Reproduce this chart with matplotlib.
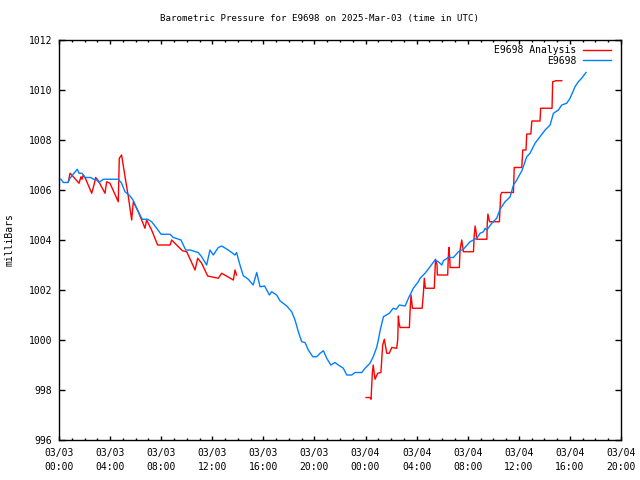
import matplotlib
matplotlib.use("Agg")
import matplotlib.dates as mdates
import numpy as np
import pandas as pd
from matplotlib import pyplot as plt

START = pd.Timestamp("2025-03-03 00:00")

# E9698 station readings: hours after start, pressure (mb)
station_hours = [0.15, 0.35, 0.7, 0.86, 1.43, 1.57, 1.8, 2.04, 2.5, 2.7, 2.95, 3.13, 3.47, 4.65, 4.9,
                 5.17, 5.56, 5.8, 6.08, 6.34, 6.52, 6.94, 7.25, 7.65, 7.99, 8.7, 8.95, 9.55, 9.92, 10.26,
                 10.9, 11.17, 11.56, 11.82, 12.08, 12.47, 12.74, 13.25, 13.78, 13.9, 14.17, 14.43, 14.82,
                 15.2, 15.48, 15.74, 16.1, 16.47, 16.65, 17.04, 17.3, 17.83, 18.22, 18.48, 18.74, 19.0,
                 19.26, 19.52, 19.87, 20.18, 20.44, 20.7, 20.96, 21.28, 21.61, 21.87, 22.26, 22.53, 22.92,
                 23.18, 23.7, 23.96, 24.35, 24.6, 24.87, 25.0, 25.15, 25.4, 25.86, 26.17, 26.4, 26.65,
                 27.1, 27.36, 27.74, 28.13, 28.27, 28.66, 29.05, 29.44, 29.7, 29.97, 30.1, 30.48, 30.88,
                 31.27, 31.66, 32.18, 32.45, 32.71, 32.97, 33.23, 33.36, 33.5, 33.88, 34.27, 34.53, 34.92,
                 35.07, 35.32, 35.58, 35.84, 35.97, 36.24, 36.62, 36.88, 37.27, 37.66, 38.06, 38.45, 38.71,
                 39.1, 39.36, 39.75, 40.01, 40.4, 40.66, 40.92, 41.26]
station_mb = [1006.43, 1006.3, 1006.3, 1006.47, 1006.83, 1006.67, 1006.67, 1006.5, 1006.5, 1006.43, 1006.4,
              1006.3, 1006.43, 1006.43, 1006.27, 1005.93, 1005.76, 1005.6, 1005.27, 1005.0, 1004.83, 1004.83,
              1004.73, 1004.47, 1004.23, 1004.23, 1004.1, 1004.0, 1003.6, 1003.6, 1003.5, 1003.33, 1003.0,
              1003.6, 1003.4, 1003.7, 1003.76, 1003.6, 1003.4, 1003.5, 1003.0, 1002.57, 1002.43, 1002.2,
              1002.7, 1002.13, 1002.16, 1001.8, 1001.93, 1001.8, 1001.57, 1001.36, 1001.13, 1000.8, 1000.33,
              999.93, 999.9, 999.6, 999.33, 999.33, 999.47, 999.57, 999.27, 999.0, 999.1, 999.0, 998.87,
              998.6, 998.6, 998.7, 998.7, 998.87, 999.07, 999.33, 999.7, 1000.0, 1000.4, 1000.93, 1001.07,
              1001.27, 1001.23, 1001.4, 1001.36, 1001.67, 1002.07, 1002.33, 1002.47, 1002.67, 1002.93,
              1003.2, 1003.13, 1003.0, 1003.17, 1003.3, 1003.3, 1003.53, 1003.63, 1003.93, 1004.0, 1004.07,
              1004.27, 1004.33, 1004.47, 1004.4, 1004.67, 1004.87, 1005.23, 1005.53, 1005.6, 1005.73,
              1006.2, 1006.4, 1006.53, 1006.77, 1007.33, 1007.47, 1007.87, 1008.13, 1008.4, 1008.6,
              1009.07, 1009.2, 1009.4, 1009.47, 1009.67, 1010.13, 1010.33, 1010.47, 1010.7]

# analysis, first run
analysis1_hours = [0.73, 0.86, 1.12, 1.57, 1.72, 1.8, 1.9, 2.04, 2.56, 2.76, 2.87, 3.08, 3.6, 3.73, 3.99,
                   4.64, 4.72, 4.9, 5.17, 5.43, 5.69, 5.82, 6.21, 6.47, 6.73, 6.86, 7.25, 7.72, 8.7, 8.82,
                   9.21, 9.66, 10.0, 10.65, 10.86, 11.17, 11.64, 12.47, 12.74, 13.65, 13.78, 13.9]
analysis1_mb = [1006.33, 1006.67, 1006.53, 1006.27, 1006.53, 1006.43, 1006.6, 1006.5, 1005.87, 1006.24,
                1006.5, 1006.37, 1005.87, 1006.33, 1006.27, 1005.53, 1007.27, 1007.4, 1006.53, 1005.73,
                1004.8, 1005.53, 1005.13, 1004.8, 1004.47, 1004.8, 1004.4, 1003.8, 1003.8, 1004.0, 1003.8,
                1003.57, 1003.53, 1002.8, 1003.27, 1003.07, 1002.56, 1002.47, 1002.67, 1002.4, 1002.8,
                1002.6]

# analysis, second run
analysis2_hours = [24.04, 24.35, 24.43, 24.53, 24.6, 24.74, 24.95, 25.2, 25.27, 25.34, 25.47, 25.66, 25.86,
                   26.05, 26.44, 26.52, 26.57, 26.62, 26.7, 27.43, 27.49, 27.56, 27.67, 28.43, 28.53, 28.6,
                   28.68, 29.38, 29.43, 29.48, 29.6, 29.62, 30.43, 30.48, 30.53, 30.6, 30.62, 31.34, 31.4,
                   31.53, 31.66, 32.45, 32.5, 32.58, 32.66, 32.71, 33.5, 33.53, 33.58, 33.71, 34.48, 34.53,
                   34.58, 34.66, 35.58, 35.64, 36.23, 36.31, 36.56, 36.62, 36.94, 37.02, 37.66, 37.71, 38.6,
                   38.65, 38.9, 39.36]
analysis2_mb = [997.7, 997.7, 997.63, 998.67, 999.0, 998.43, 998.67, 998.7, 999.23, 999.8, 1000.03, 999.47,
                999.47, 999.7, 999.67, 1000.03, 1000.96, 1000.7, 1000.5, 1000.5, 1001.2, 1001.8, 1001.27,
                1001.27, 1001.87, 1002.47, 1002.07, 1002.07, 1002.67, 1003.23, 1003.0, 1002.6, 1002.6,
                1003.33, 1003.7, 1003.2, 1002.9, 1002.9, 1003.6, 1004.0, 1003.53, 1003.53, 1004.13, 1004.56,
                1004.3, 1004.03, 1004.03, 1004.67, 1005.04, 1004.73, 1004.73, 1005.27, 1005.8, 1005.9,
                1005.9, 1006.9, 1006.9, 1007.6, 1007.6, 1008.24, 1008.24, 1008.76, 1008.76, 1009.27,
                1009.27, 1010.33, 1010.37, 1010.37]


def to_time(hours):
    return START + pd.to_timedelta(np.array(hours), unit="h")


FONT = "DejaVu Sans Mono"
plt.rcParams["font.family"] = FONT
plt.rcParams["font.size"] = 7

fig = plt.figure(figsize=(6.4, 4.8), dpi=100)
ax = fig.add_axes([59 / 640, 40 / 480, 562 / 640, 400 / 480])

red = "#ff0000"
blue = "#0080ff"
ax.plot(to_time(analysis1_hours), analysis1_mb, color=red, lw=1, label="E9698 Analysis")
ax.plot(to_time(analysis2_hours), analysis2_mb, color=red, lw=1)
ax.plot(to_time(station_hours), station_mb, color=blue, lw=1, label="E9698")

ax.set_xlim(START, START + pd.Timedelta(hours=44))
ax.set_ylim(996, 1012)
ax.set_yticks(range(996, 1013, 2))

ax.xaxis.set_major_locator(mdates.HourLocator(byhour=range(0, 24, 4)))
ax.xaxis.set_minor_locator(mdates.HourLocator())
ax.xaxis.set_major_formatter(mdates.DateFormatter("%m/%d\n%H:%M"))
for lbl in ax.get_xticklabels():
    lbl.set_linespacing(1.5)

ax.tick_params(which="both", direction="in", top=True, right=True, width=1, colors="black")
ax.tick_params(which="major", length=3, pad=6)
ax.tick_params(axis="y", which="major", length=4, pad=5)
ax.tick_params(which="minor", length=1.5)
for s in ax.spines.values():
    s.set_linewidth(1)

ax.legend(loc="upper right", frameon=False, markerfirst=False, handlelength=2.9,
          handletextpad=0.7, borderaxespad=0.6, labelspacing=0.1, fontsize=7,
          bbox_to_anchor=(1.0, 1.012))

fig.text(0.5, 1 - 19 / 480, "Barometric Pressure for E9698 on 2025-Mar-03 (time in UTC)",
         ha="center", va="center", fontsize=6.6)
fig.text(10 / 640, 0.5, "milliBars", rotation=90, ha="center", va="center", fontsize=7)

fig.savefig("out.png", dpi=100)
